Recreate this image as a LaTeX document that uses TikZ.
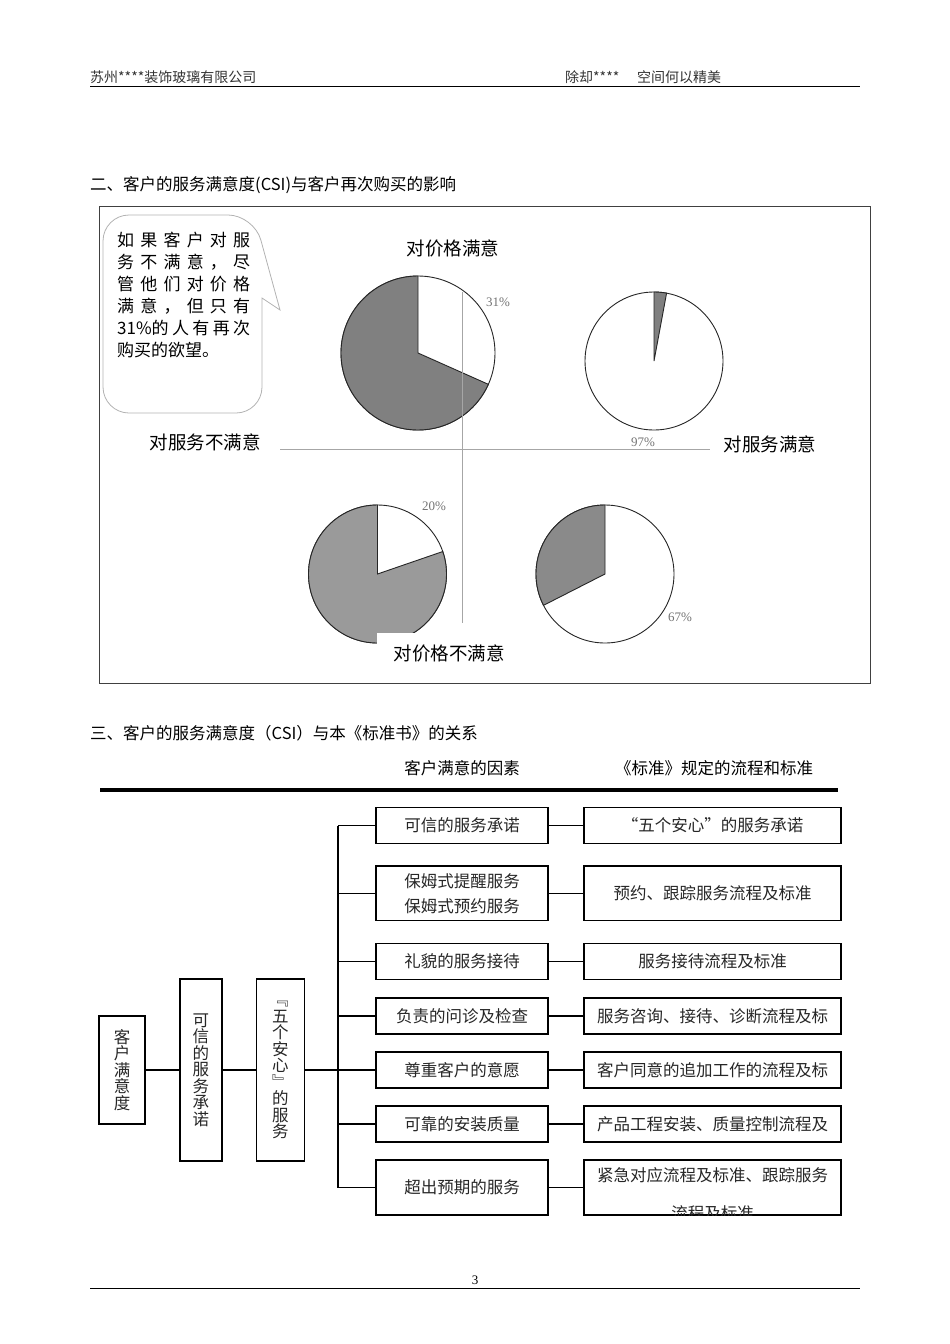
\documentclass[tikz,border=0pt]{standalone}
\usepackage{fontspec}
\setmainfont{Noto Sans CJK SC}
\newfontfamily\pctfont{Liberation Serif}
\usetikzlibrary{positioning}
\definecolor{pieDark}{HTML}{808080}
\definecolor{pieMid}{HTML}{8A8A8A}
\definecolor{pieLight}{HTML}{9A9A9A}
\newcommand{\fs}[2]{\fontsize{#1}{#2}\selectfont}
\tikzset{
  hdrtext/.style   = {font=\fs{14}{14}, text=black!80, inner sep=0pt, anchor=base west},
  secttext/.style  = {font=\fs{16.5}{16.5}, inner sep=0pt, anchor=west},
  frameline/.style = {draw=black!75, line width=0.9pt},
  bubbleline/.style= {draw=black!30, line width=0.8pt},
  axisline/.style  = {draw=black!35, line width=0.7pt},
  pieline/.style   = {draw=black!85, line width=0.9pt},
  pctlabel/.style  = {font=\pctfont\fs{13}{13}, text=black!55, inner sep=0pt},
  quadlabel/.style = {font=\fs{18.5}{18.5}, inner sep=0pt},
  colhead/.style   = {font=\fs{16.5}{16.5}, inner sep=0pt},
  flowbox/.style   = {draw, line width=1.4pt, inner sep=0pt, font=\fs{16.5}{25},
                      text=black!85, align=center},
  midbox/.style    = {flowbox, minimum width=172pt},
  stdbox/.style    = {flowbox, minimum width=257pt},
  vertbox/.style   = {flowbox, font=\fs{16.5}{16.5}, minimum height=181.7pt},
  link/.style      = {line width=1.3pt}
}

\begin{document}
\begin{tikzpicture}[x=1pt,y=-1pt]
  \useasboundingbox (0,0) rectangle (950,1344);

  % page header and footer
  \node[hdrtext] (hdrL) at (90,82) {苏州****装饰玻璃有限公司};
  \node[hdrtext] (hdrR) at (565,82) {除却****};
  \node[hdrtext] (hdrS) at (637,82) {空间何以精美};
  \draw[line width=1.8pt] (90,86.5) -- (860,86.5);
  \node[font=\pctfont\fs{13}{13}, inner sep=0pt] (pgno) at (475,1280) {3};
  \draw[line width=1.8pt] (90,1288.5) -- (860,1288.5);

  % section two: four pies
  \node[secttext] (sec2) at (90,185) {二、客户的服务满意度(CSI)与客户再次购买的影响};
  \draw[frameline] (99,206) rectangle (870,683);

  \draw[bubbleline] (262,298) [rounded corners=26] -- (262,413) -- (103,413)
    -- (103,215) -- (254,215) [sharp corners] -- (280,310) -- cycle;
  \node[font=\fs{17}{22}, text width=133pt, align=left, inner sep=0pt, anchor=north west] (bubtext) at (117,232)
    {如\hfill 果\hfill 客\hfill 户\hfill 对\hfill 服\\
     务\hfill 不\hfill 满\hfill 意\hfill ，\hfill 尽\\
     管\hfill 他\hfill 们\hfill 对\hfill 价\hfill 格\\
     满\hfill 意\hfill ，\hfill 但\hfill 只\hfill 有\\
     31\%的\hfill 人\hfill 有\hfill 再\hfill 次\\
     购买的欲望。};

  \foreach \cx/\cy/\r/\a/\b/\col in {418/353/77/90/336/pieDark,
      654/361/69/79.5/90/pieDark, 377.5/574/69/90/379/pieLight,
      605/574/69/90/207/pieMid} {
    \begin{scope}[shift={(\cx,\cy)}, yscale=-1]
      \draw[pieline, fill=white] (0,0) circle[radius=\r];
      \draw[pieline, fill=\col] (0,0) -- (\a:\r) arc[start angle=\a, end angle=\b, radius=\r] -- cycle;
    \end{scope}
  }

  \draw[axisline] (280,449) -- (710,449);
  \draw[axisline] (462,292) -- (462,623);

  \node[pctlabel] (p31) at (498,302) {31\%};
  \node[pctlabel] (p97) at (643,442) {97\%};
  \node[pctlabel] (p20) at (434,506) {20\%};
  \node[pctlabel] (p67) at (680,617) {67\%};

  \node[quadlabel] (priceOk)   at (453,248) {对价格满意};
  \node[quadlabel] (serviceNo) at (205,442) {对服务不满意};
  \node[quadlabel] (serviceOk) at (770,444) {对服务满意};
  \node[quadlabel, fill=white, minimum width=144pt, minimum height=40pt] (priceNo) at (449,653) {对价格不满意};

  % section three: factors and standards
  \node[secttext] (sec3) at (90,733) {三、客户的服务满意度（CSI）与本《标准书》的关系};
  \node[colhead] (headMid) at (462,768) {客户满意的因素};
  \node[colhead] (headStd) at (714,768) {《标准》规定的流程和标准};
  \draw[line width=4pt] (100,790) -- (838,790);

  \node[vertbox, minimum width=46pt, minimum height=108pt] (sat) at (122,1070) {客\\户\\满\\意\\度};
  \node[vertbox, minimum width=42pt, right=33.5pt of sat] (prom) {可\\信\\的\\服\\务\\承\\诺};
  \node[vertbox, minimum width=48pt, right=33pt of prom] (five) {﹃\\五\\个\\安\\心\\﹄\\的\\服\\务};
  \coordinate (tx) at (338,0);

  \foreach \i/\y/\h/\mtxt/\stxt in {
      1/825.5/36.4/{可信的服务承诺}/{“五个安心”的服务承诺},
      2/893.3/54.7/{保姆式提醒服务\\保姆式预约服务}/{预约、跟踪服务流程及标准},
      3/961.3/36/{礼貌的服务接待}/{服务接待流程及标准},
      4/1016/36.3/{负责的问诊及检查}/{服务咨询、接待、诊断流程及标},
      5/1070/36/{尊重客户的意愿}/{客户同意的追加工作的流程及标},
      6/1124/36.3/{可靠的安装质量}/{产品工程安装、质量控制流程及},
      7/1187.5/55/{超出预期的服务}/{}} {
    \node[midbox, minimum height=\h pt] (m\i) at (462,\y) {\mtxt};
    \node[stdbox, minimum height=\h pt] (s\i) at (712.5,\y) {\stxt};
    \draw[link] (m\i.west) -- (m\i.west -| tx);
    \draw[link] (m\i.east) -- (s\i.west);
  }
  \begin{scope}
    \clip (s7.north west) rectangle (s7.south east);
    \node[font=\fs{16.5}{16.5}, text=black!85, inner sep=0pt] (s7a) at (712.5,1175) {紧急对应流程及标准、跟踪服务};
    \node[font=\fs{16.5}{16.5}, text=black!85, inner sep=0pt] (s7b) at (712.5,1213) {流程及标准};
  \end{scope}

  \draw[link] (m1.west -| tx) -- (m7.west -| tx);
  \draw[link] (sat) -- (prom);
  \draw[link] (prom) -- (five);
  \draw[link] (five.east) -- (five.east -| tx);
\end{tikzpicture}
\end{document}
